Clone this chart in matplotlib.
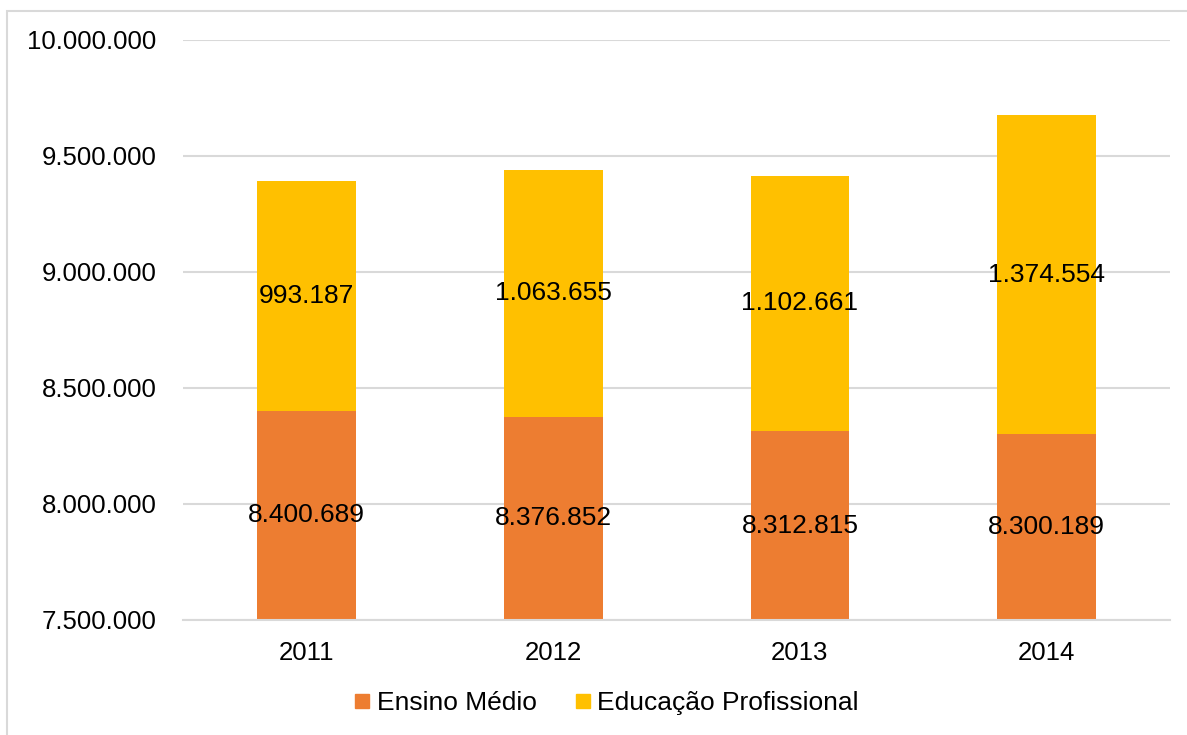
import matplotlib
matplotlib.use("Agg")
import matplotlib.pyplot as plt
from matplotlib.lines import Line2D
from matplotlib.patches import Rectangle
from matplotlib.ticker import FuncFormatter

plt.rcParams['font.family'] = ['Liberation Sans', 'DejaVu Sans']

anos = ["2011", "2012", "2013", "2014"]
ensino_medio = [8400689, 8376852, 8312815, 8300189]
educacao_prof = [993187, 1063655, 1102661, 1374554]

cor_em = "#ED7D31"
cor_ep = "#FFC000"
cor_grade = "#D9D9D9"

y_min, y_max = 7500000, 10000000


def fmt_br(v):
    return f"{int(round(v)):,}".replace(",", ".")


fig = plt.figure(figsize=(11.87, 7.35), dpi=100)
ax = fig.add_axes([0.1542, 0.1565, 0.8315, 0.7891])

# moldura externa do gráfico
fig.patches.append(Rectangle((7 / 1187, -0.1), 1.2, 1 - 11 / 735 + 0.1,
                             transform=fig.transFigure, fill=False,
                             edgecolor=cor_grade, linewidth=1.5))

x = range(len(anos))
ax.bar(x, ensino_medio, width=0.4, color=cor_em, zorder=2)
ax.bar(x, educacao_prof, width=0.4, bottom=ensino_medio, color=cor_ep, zorder=2)

# rótulos no centro da parte visível de cada segmento
for i in x:
    ax.text(i, (y_min + ensino_medio[i]) / 2, fmt_br(ensino_medio[i]),
            ha="center", va="center", fontsize=19, zorder=3)
    topo = ensino_medio[i] + educacao_prof[i]
    ax.text(i, (ensino_medio[i] + topo) / 2, fmt_br(educacao_prof[i]),
            ha="center", va="center", fontsize=19, zorder=3)

ax.set_xlim(-0.5, len(anos) - 0.5)
ax.set_ylim(y_min, y_max)
ax.set_yticks(range(y_min, y_max + 1, 500000))
ax.yaxis.set_major_formatter(FuncFormatter(lambda v, p: fmt_br(v)))
ax.set_xticks(list(x))
ax.set_xticklabels(anos)

ax.grid(axis="y", color=cor_grade, linewidth=1.5, zorder=0)
ax.set_axisbelow(True)
for lado in ["top", "right", "left"]:
    ax.spines[lado].set_visible(False)
ax.spines["bottom"].set_color(cor_grade)
ax.spines["bottom"].set_linewidth(1.5)
ax.tick_params(axis="both", length=0)
ax.tick_params(axis="y", labelsize=18.5, pad=19)
ax.tick_params(axis="x", labelsize=18.5, pad=15)

handles = [Line2D([], [], marker="s", linestyle="", color=cor_em, markersize=9.5),
           Line2D([], [], marker="s", linestyle="", color=cor_ep, markersize=9.5)]
fig.legend(handles, ["Ensino Médio", "Educação Profissional"], loc="center",
           bbox_to_anchor=(607 / 1187, 1 - 703 / 735), ncol=2, frameon=False,
           fontsize=19, handletextpad=0.3, columnspacing=1.5, handlelength=0.5)

fig.savefig("out.png", dpi=100)
